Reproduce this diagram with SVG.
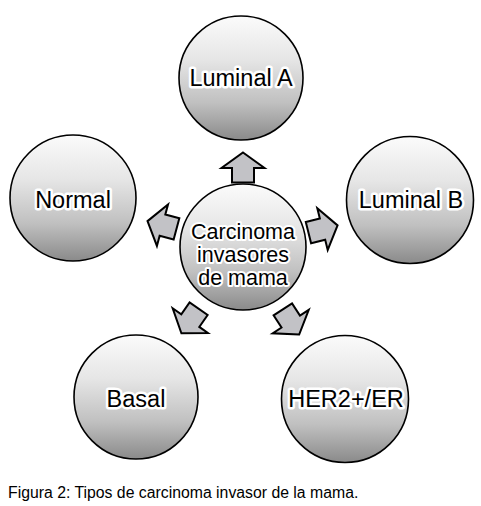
<svg xmlns="http://www.w3.org/2000/svg" width="481" height="506" viewBox="0 0 481 506">
<defs>
<linearGradient id="g" x1="0" y1="0" x2="0" y2="1">
<stop offset="0" stop-color="#fbfbfb"/>
<stop offset="0.35" stop-color="#e6e6e6"/>
<stop offset="0.7" stop-color="#c0c0c0"/>
<stop offset="1" stop-color="#8a8a8a"/>
</linearGradient>
<path id="arr" d="M0,-15 L21.5,0.5 L11,0.5 L11,15 L-11,15 L-11,0.5 L-21.5,0.5 Z"/>
</defs>
<style>
.c{fill:url(#g);stroke:#000;stroke-width:1.6}
.t{font-family:"Liberation Sans",Arial,sans-serif;font-size:23.5px;fill:#000;text-anchor:middle;stroke:#fff;stroke-width:5;stroke-linejoin:round;paint-order:stroke}
.tc{font-size:21.5px;stroke-width:4}
.a{fill:#c2c2c6;stroke:#000;stroke-width:2;stroke-linejoin:miter}
.cap{font-family:"Liberation Sans",Arial,sans-serif;font-size:15.8px;fill:#000}
</style>
<rect width="481" height="506" fill="#fff"/>
<g id="connectors">
<use href="#arr" class="a" transform="translate(243,167.5)"/>
<use href="#arr" class="a" transform="translate(162,225) rotate(-75)"/>
<use href="#arr" class="a" transform="translate(323,229) rotate(76)"/>
<use href="#arr" class="a" transform="translate(190,321) rotate(-145)"/>
<use href="#arr" class="a" transform="translate(291,322) rotate(147)"/>
</g>
<g id="center">
<circle class="c" cx="243" cy="247" r="63"/>
<text class="t tc" x="243" y="239">Carcinoma</text>
<text class="t tc" x="243" y="262">invasores</text>
<text class="t tc" x="243" y="285">de mama</text>
</g>
<g id="luminalA">
<circle class="c" cx="241" cy="78" r="62"/>
<text class="t" x="241" y="86">Luminal A</text>
</g>
<g id="normal">
<circle class="c" cx="73" cy="198" r="63"/>
<text class="t" x="73" y="208">Normal</text>
</g>
<g id="luminalB">
<circle class="c" cx="410" cy="200" r="63.5"/>
<text class="t" x="411" y="208">Luminal B</text>
</g>
<g id="basal">
<circle class="c" cx="136" cy="397" r="62"/>
<text class="t" x="136" y="407">Basal</text>
</g>
<g id="her2">
<circle class="c" cx="345" cy="399" r="63.5"/>
<text class="t" x="346" y="407">HER2+/ER</text>
</g>
<text class="cap" x="8" y="498">Figura 2: Tipos de carcinoma invasor de la mama.</text>
</svg>
